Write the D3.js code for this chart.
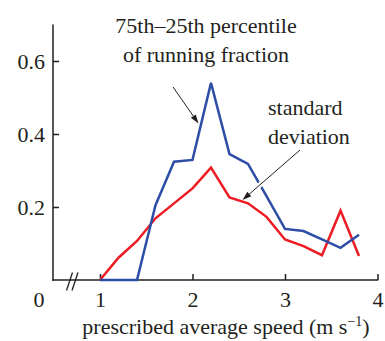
<!DOCTYPE html>
<html><head><meta charset="utf-8">
<script src="https://cdn.jsdelivr.net/npm/d3@7"></script>
<style>html,body{margin:0;background:#fff;font-family:"Liberation Serif",serif}#wrap{position:relative;width:385px;height:341px;font-family:"Liberation Serif",serif}svg{display:block}</style>
</head><body><div id="wrap"><svg id="c" width="385" height="341" style="font-family:'Liberation Serif',serif"></svg></div>
<script>
const speeds = [1.0,1.2,1.4,1.6,1.8,2.0,2.2,2.4,2.6,2.8,3.0,3.2,3.4,3.6,3.8];
const iqr = [0,0,0,0.205,0.324,0.329,0.54,0.345,0.318,0.23,0.14,0.134,0.111,0.088,0.124];
const sd = [0,0.061,0.107,0.169,0.21,0.251,0.308,0.226,0.21,0.173,0.111,0.093,0.068,0.19,0.066];
const xTicks = [1,2,3,4];
const yTicks = [0.2,0.4,0.6];
const xTitle = "prescribed average speed (m s";
const xTitleSup = "\u22121";
const labelIqr = ["75th\u201325th percentile","of running fraction"];
const labelSd = ["standard","deviation"];

const FONT = "Liberation Serif";
const svg = d3.select("#c");
const fs = 22;
const ink = "#231f20";
const x = d3.scaleLinear().domain([1,4]).range([100,377.5]);
const y = d3.scaleLinear().domain([0,0.7]).range([280,24.5]);
const axX0 = 53;

function txt(sel){ return sel.attr("font-family",FONT).style("font-family","'Liberation Serif', serif").attr("font-size",fs).attr("fill",ink); }

const ya = svg.append("g").attr("transform",`translate(${axX0},0)`)
  .call(d3.axisLeft(y).tickValues(yTicks).tickFormat(d3.format(".1f")).tickSizeInner(-6).tickSizeOuter(0).tickPadding(8));
const xa = svg.append("g").attr("transform",`translate(0,${y(0)})`)
  .call(d3.axisBottom(x).tickValues(xTicks).tickFormat(d3.format("d")).tickSizeInner(-6).tickSizeOuter(0).tickPadding(11));
[ya,xa].forEach(g=>{
  g.attr("font-family",FONT).attr("font-size",fs);
  g.select(".domain").remove();
  g.selectAll("line").attr("stroke",ink).attr("stroke-width",1.5);
  txt(g.selectAll("text"));
});
svg.append("line").attr("x1",axX0).attr("x2",axX0).attr("y1",y(0.7)).attr("y2",y(0)+0.75)
  .attr("stroke",ink).attr("stroke-width",1.5);
svg.append("line").attr("x1",axX0-0.75).attr("x2",x(4)+0.75).attr("y1",y(0)).attr("y2",y(0))
  .attr("stroke",ink).attr("stroke-width",1.5);
[0,5.5].forEach(o=>{
  svg.append("line").attr("x1",66.5+o).attr("y1",y(0)+10.5).attr("x2",72.5+o).attr("y2",y(0)-7.5)
    .attr("stroke",ink).attr("stroke-width",1.3);
});
txt(svg.append("text").attr("x",39).attr("y",y(0)+11).attr("dy","0.71em").attr("text-anchor","middle")).text("0");

const xt = txt(svg.append("text").attr("x",226).attr("y",334).attr("text-anchor","middle"));
xt.append("tspan").text(xTitle);
xt.append("tspan").attr("dy",-8).attr("font-size",14).text(xTitleSup);
xt.append("tspan").attr("dy",8).text(")");

const line = d3.line().x((d,i)=>x(speeds[i])).y(d=>y(d));
svg.append("path").datum(sd).attr("d",line).attr("fill","none").attr("stroke","#ed1c24").attr("stroke-width",2.5);
svg.append("path").datum(iqr).attr("d",line).attr("fill","none").attr("stroke","#2e4ea6").attr("stroke-width",2.5);

function arrow(x1,y1,x2,y2,halo){
  const a = Math.atan2(y2-y1,x2-x1), L=9, W=3;
  const bx = x2 - L*Math.cos(a), by = y2 - L*Math.sin(a);
  if(halo) svg.append("line").attr("x1",x1).attr("y1",y1).attr("x2",bx).attr("y2",by).attr("stroke","#fff").attr("stroke-width",5);
  svg.append("line").attr("x1",x1).attr("y1",y1).attr("x2",bx).attr("y2",by).attr("stroke",ink).attr("stroke-width",1);
  const p = [[x2,y2],[bx+W*Math.sin(a),by-W*Math.cos(a)],[bx-W*Math.sin(a),by+W*Math.cos(a)]];
  svg.append("path").attr("d","M"+p.join("L")+"Z").attr("fill",ink);
}
arrow(173,87,198.5,123.5,false);
arrow(300,150,242.5,200,true);

labelIqr.forEach((t,i)=>txt(svg.append("text").attr("x",206).attr("y",33+i*29).attr("text-anchor","middle")).text(t));
labelSd.forEach((t,i)=>txt(svg.append("text").attr("x",268).attr("y",115+i*29).attr("text-anchor","start")).text(t));
</script></body></html>
